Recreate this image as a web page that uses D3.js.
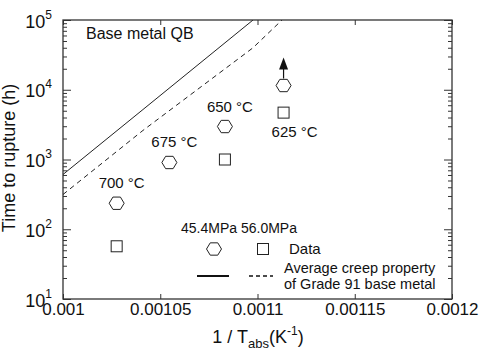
<!DOCTYPE html>
<html>
<head>
<meta charset="utf-8">
<script src="https://cdn.jsdelivr.net/npm/d3@7"></script>
<style>
  body { margin: 0; background: #fff; }
  text { font-family: "Liberation Sans", Arial, sans-serif; fill: #111; }
</style>
</head>
<body>
<script>
// creep rupture data, base metal QB
const tempLabels = ["700 °C", "675 °C", "650 °C", "625 °C"];
const tempC = [700, 675, 650, 625];
const hours454 = [236, 906, 2970, 11500];   // 45.4 MPa (hexagons)
const hours560 = [57, null, 1000, 4700];    // 56.0 MPa (squares)
const runout = [false, false, false, true]; // still running -> arrow

// average creep property of Grade 91 base metal
const avgInvT = [0.001, 0.0010411, 0.0010977, 0.0011126];
const avgSolid = [610, 5200, 100000, null];
const avgDashed = [315, 2610, 40000, 100000];

const xTicks = [0.001, 0.00105, 0.0011, 0.00115, 0.0012];
const xTickLabels = ["0.001", "0.00105", "0.0011", "0.00115", "0.0012"];
const yMajor = [10, 100, 1000, 10000, 100000];
const yExp = ["1", "2", "3", "4", "5"];

const W = 484, H = 350;
const margin = {top: 20, right: 32, bottom: 51, left: 63};
const width = W - margin.left - margin.right;
const height = H - margin.top - margin.bottom;

const svg = d3.select("body").append("svg")
    .attr("width", W)
    .attr("height", H);

const g = svg.append("g")
    .attr("transform", "translate(" + margin.left + "," + margin.top + ")");

const x = d3.scaleLinear().domain([0.001, 0.0012]).range([0, width]);
const y = d3.scaleLog().domain([10, 100000]).range([height, 0]);

const invT = c => 1 / (c + 273.15);

// minor log ticks
const yMinor = [];
yMajor.slice(0, -1).forEach(d => { for (let k = 2; k <= 9; k++) yMinor.push(d * k); });

function styleAxis(sel) {
    sel.select(".domain").remove();
    sel.selectAll("line").attr("stroke", "#333").attr("stroke-width", 1);
}

// left axis
g.append("g").call(d3.axisLeft(y).tickValues(yMinor).tickSize(-4).tickFormat("")).call(styleAxis);
const yl = g.append("g").call(d3.axisLeft(y).tickValues(yMajor).tickSize(-8).tickFormat("")).call(styleAxis);
yl.selectAll(".tick").append("text")
    .attr("x", -11)
    .attr("y", 7)
    .attr("text-anchor", "end")
    .style("font-size", "18px")
    .each(function(d, i) {
        const t = d3.select(this);
        t.append("tspan").text("10");
        t.append("tspan").attr("dy", -9).style("font-size", "12px").text(yExp[i]);
    });

// right axis
const yr = g.append("g").attr("transform", "translate(" + width + ",0)");
yr.append("g").call(d3.axisRight(y).tickValues(yMinor).tickSize(-4).tickFormat("")).call(styleAxis);
yr.append("g").call(d3.axisRight(y).tickValues(yMajor).tickSize(-8).tickFormat("")).call(styleAxis);

// bottom axis
g.append("g")
    .attr("transform", "translate(0," + height + ")")
    .call(d3.axisBottom(x).tickValues(xTicks).tickSize(-5).tickPadding(4)
        .tickFormat((d, i) => xTickLabels[i]))
    .call(styleAxis)
    .selectAll("text").style("font-size", "17px").style("fill", "#111");

// top axis
g.append("g")
    .call(d3.axisTop(x).tickValues(xTicks).tickSize(-5).tickFormat(""))
    .call(styleAxis);

// frame
g.append("rect")
    .attr("width", width).attr("height", height)
    .attr("fill", "none").attr("stroke", "#333").attr("stroke-width", 1.3);

// clip for curves
g.append("clipPath").attr("id", "clip")
    .append("rect").attr("width", width).attr("height", height);

const avgLine = vals => d3.line()
    .defined((d, i) => vals[i] != null)
    .x(d => x(d))
    .y((d, i) => y(vals[i]));

g.append("path")
    .datum(avgInvT)
    .attr("clip-path", "url(#clip)")
    .attr("fill", "none").attr("stroke", "#222").attr("stroke-width", 1)
    .attr("d", avgLine(avgSolid));

g.append("path")
    .datum(avgInvT)
    .attr("clip-path", "url(#clip)")
    .attr("fill", "none").attr("stroke", "#222").attr("stroke-width", 1)
    .attr("stroke-dasharray", "5,4")
    .attr("d", avgLine(avgDashed));

// markers
const hexPath = r => d3.range(6).map(k => {
    const a = k * Math.PI / 3;
    return [r * Math.cos(a), r * 0.95 * Math.sin(a)];
});
const hexD = r => "M" + hexPath(r).join("L") + "Z";

g.selectAll(".hex")
    .data(tempC)
    .enter().append("path")
    .attr("class", "hex")
    .attr("transform", (d, i) => "translate(" + x(invT(d)) + "," + y(hours454[i]) + ")")
    .attr("d", hexD(7.5))
    .attr("fill", "none").attr("stroke", "#222").attr("stroke-width", 1);

g.selectAll(".sq")
    .data(tempC.filter((d, i) => hours560[i] != null))
    .enter().append("rect")
    .attr("class", "sq")
    .attr("x", d => x(invT(d)) - 5.5)
    .attr("y", d => y(hours560[tempC.indexOf(d)]) - 5.5)
    .attr("width", 11).attr("height", 11)
    .attr("fill", "none").attr("stroke", "#222").attr("stroke-width", 1);

// run-out arrows
tempC.forEach((d, i) => {
    if (!runout[i]) return;
    const px = x(invT(d)), py = y(hours454[i]);
    g.append("line")
        .attr("x1", px).attr("x2", px)
        .attr("y1", py - 7).attr("y2", py - 20)
        .attr("stroke", "#111").attr("stroke-width", 1.2);
    g.append("path")
        .attr("d", "M" + px + "," + (py - 28) + "L" + (px + 4.5) + "," + (py - 16) + "L" + (px - 4.5) + "," + (py - 16) + "Z")
        .attr("fill", "#111");
});

// temperature labels
g.selectAll(".tlab")
    .data(tempC)
    .enter().append("text")
    .attr("class", "tlab")
    .attr("text-anchor", "middle")
    .attr("x", d => x(invT(d)) + (d === 625 ? 11 : 5))
    .attr("y", (d, i) => d === 625 ? y(hours560[i]) + 24 : y(hours454[i]) - 15)
    .style("font-size", "15px")
    .text((d, i) => tempLabels[i]);

// title in plot
g.append("text")
    .attr("x", 23).attr("y", 19)
    .style("font-size", "16px")
    .text("Base metal QB");

// legend
const lg = svg.append("g");
lg.append("text").attr("x", 181).attr("y", 233).style("font-size", "14px").text("45.4MPa 56.0MPa");
lg.append("path").attr("transform", "translate(214,249)").attr("d", hexD(7.5))
    .attr("fill", "none").attr("stroke", "#222");
lg.append("rect").attr("x", 257.5).attr("y", 243.5).attr("width", 11).attr("height", 11)
    .attr("fill", "none").attr("stroke", "#222");
lg.append("text").attr("x", 289).attr("y", 254).style("font-size", "15px").text("Data");
lg.append("line").attr("x1", 197).attr("x2", 229).attr("y1", 276).attr("y2", 276)
    .attr("stroke", "#111").attr("stroke-width", 2);
lg.append("line").attr("x1", 249).attr("x2", 273).attr("y1", 276).attr("y2", 276)
    .attr("stroke", "#111").attr("stroke-width", 1.5).attr("stroke-dasharray", "4,3");
lg.append("text").attr("x", 284).attr("y", 273).style("font-size", "14.5px").text("Average creep property");
lg.append("text").attr("x", 284).attr("y", 289).style("font-size", "14.5px").text("of Grade 91 base metal");

// axis titles
const xt = svg.append("text")
    .attr("x", 258).attr("y", 343)
    .attr("text-anchor", "middle")
    .style("font-size", "18px");
xt.append("tspan").text("1 / T");
xt.append("tspan").attr("dy", 5).style("font-size", "13px").text("abs");
xt.append("tspan").attr("dy", -5).text("(K");
xt.append("tspan").attr("dy", -8).style("font-size", "12px").text("-1");
xt.append("tspan").attr("dy", 8).text(")");

svg.append("text")
    .attr("transform", "translate(15,158) rotate(-90)")
    .attr("text-anchor", "middle")
    .style("font-size", "18px")
    .text("Time to rupture (h)");
</script>
</body>
</html>
